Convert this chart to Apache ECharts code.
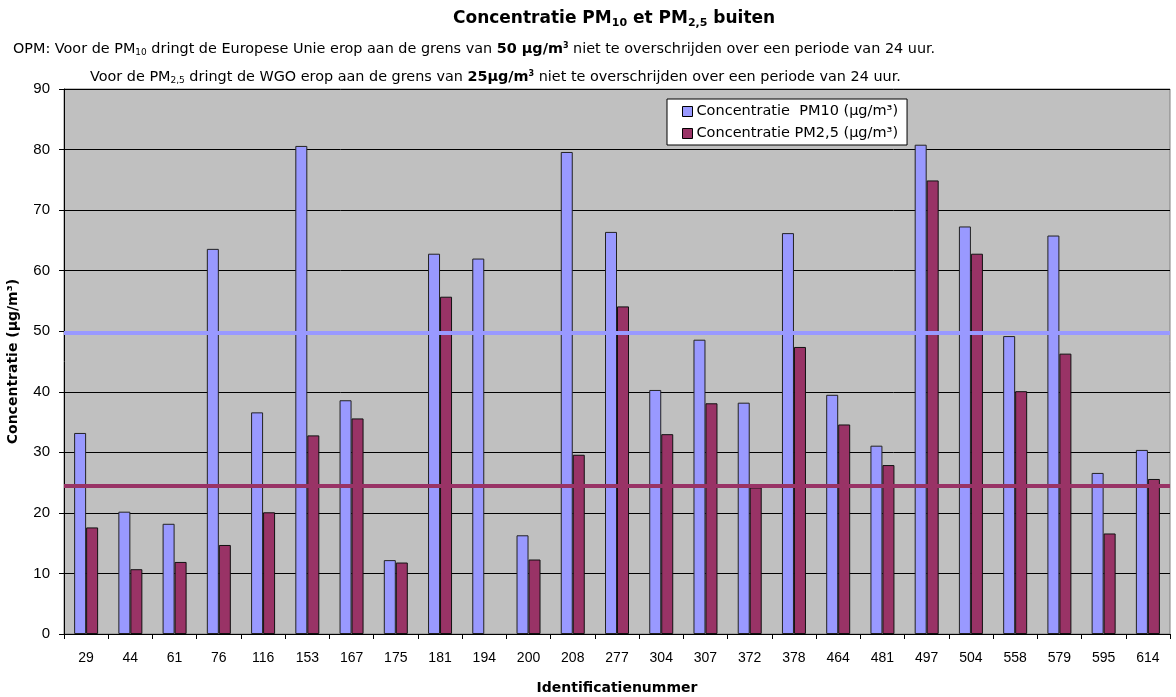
<!DOCTYPE html>
<html><head><meta charset="utf-8">
<script src="https://cdn.jsdelivr.net/npm/echarts@6/dist/echarts.min.js"></script>
<style>html,body{margin:0;padding:0;background:#fff}#c{width:1176px;height:697px}</style>
</head><body><div id="c"></div>
<script>
const categories = ['29','44','61','76','116','153','167','175','181','194','200','208','277','304','307','372','378','464','481','497','504','558','579','595','614'];
const pm10 = [33.2,20.2,18.2,63.6,36.6,80.6,38.6,12.2,62.8,62.0,16.3,79.6,66.4,40.3,48.6,38.2,66.2,39.5,31.1,80.8,67.3,49.2,65.8,26.6,30.4];
const pm25 = [17.6,10.7,11.9,14.7,20.1,32.8,35.6,11.8,55.7,null,12.3,29.6,54.1,33.0,38.1,24.2,47.4,34.6,27.9,74.9,62.8,40.1,46.3,16.6,25.6];
const limitPM10 = 49.7;
const limitPM25 = 24.4;
const seriesNames = ['Concentratie  PM10 (µg/m³)', 'Concentratie PM2,5 (µg/m³)'];

const FONT = '"DejaVu Sans", Verdana, sans-serif';
const AFONT = '"Liberation Sans", Arial, sans-serif';
const chart = echarts.init(document.getElementById('c'));
const subRich = {
  n: {fontSize: 14.4, fontFamily: FONT, color: '#000', fontWeight: 'normal'},
  s: {fontSize: 9, fontFamily: FONT, color: '#000', fontWeight: 'normal', padding: [7,0,0,0]},
  b: {fontSize: 14.4, fontFamily: FONT, color: '#000', fontWeight: 'bold'},
  sup: {fontSize: 8, fontFamily: FONT, color: '#000', fontWeight: 'bold', padding: [0,0,6,0]}
};
chart.setOption({
  animation: false,
  title: [
    {text: '{t|Concentratie PM}{s|10}{t| et PM}{s|2,5}{t| buiten}', left: 448, top: 4,
     textStyle: {rich: {t: {fontSize: 17, fontWeight: 'bold', fontFamily: FONT, color: '#000'},
                        s: {fontSize: 11, fontWeight: 'bold', fontFamily: FONT, color: '#000', padding: [9,0,0,0]}}}},
    {text: '{n|OPM: Voor de PM}{s|10}{n| dringt de Europese Unie erop aan de grens van }{b|50 µg/m}{sup|3}{n| niet te overschrijden over een periode van 24 uur.}',
     left: 8, top: 36, textStyle: {fontWeight: 'normal', rich: subRich}},
    {text: '{n|Voor de PM}{s|2,5}{n| dringt de WGO erop aan de grens van }{b|25µg/m}{sup|3}{n| niet te overschrijden over een periode van 24 uur.}',
     left: 85, top: 64, textStyle: {fontWeight: 'normal', rich: subRich}}
  ],
  legend: {
    orient: 'vertical', left: 667, top: 99,
    backgroundColor: '#fff', borderColor: '#000', borderWidth: 1,
    padding: [5, 9, 4, 15], itemGap: 7, itemWidth: 10, itemHeight: 10,
    textStyle: {fontSize: 14.5, fontFamily: FONT, color: '#000', padding: [0,0,0,-1]},
    data: seriesNames.map(n => ({name: n, icon: 'rect'})),
    itemStyle: {borderColor: '#000', borderWidth: 1}
  },
  grid: {left: 64, right: 6, top: 89, bottom: 63, outerBoundsMode: 'none', containLabel: false,
         show: true, backgroundColor: '#C0C0C0', borderColor: '#808080', borderWidth: 1},
  xAxis: {
    type: 'category', data: categories,
    name: 'Identificatienummer', nameLocation: 'middle', nameGap: 47,
    nameTextStyle: {fontSize: 14, fontWeight: 'bold', fontFamily: FONT, color: '#000'},
    axisLine: {lineStyle: {color: '#000', width: 1}},
    axisTick: {show: true, length: 5, lineStyle: {color: '#000'}},
    axisLabel: {fontSize: 14, fontFamily: AFONT, color: '#000', margin: 17}
  },
  yAxis: {
    type: 'value', min: 0, max: 90, interval: 10,
    name: 'Concentratie (µg/m³)', nameLocation: 'middle', nameGap: 44,
    nameTextStyle: {fontSize: 14, fontWeight: 'bold', fontFamily: FONT, color: '#000'},
    axisLine: {show: true, lineStyle: {color: '#000', width: 1}},
    axisTick: {show: true, length: 5, lineStyle: {color: '#000'}},
    axisLabel: {fontSize: 15, fontFamily: AFONT, color: '#000', margin: 14},
    splitLine: {lineStyle: {color: '#000', width: 1}}
  },
  series: [
    {name: seriesNames[0], type: 'bar', data: pm10, barWidth: 12, barGap: '0%',
     itemStyle: {color: '#9999FF', borderColor: '#222', borderWidth: 1},
     markLine: {silent: true, symbol: 'none', label: {show: false},
       lineStyle: {color: '#9999FF', width: 4, type: 'solid'}, data: [{yAxis: limitPM10}]}},
    {name: seriesNames[1], type: 'bar', data: pm25, barWidth: 12, barGap: '0%',
     itemStyle: {color: '#993366', borderColor: '#111', borderWidth: 1},
     markLine: {silent: true, symbol: 'none', label: {show: false},
       lineStyle: {color: '#993366', width: 4, type: 'solid'}, data: [{yAxis: limitPM25}]}}
  ]
});
</script></body></html>
